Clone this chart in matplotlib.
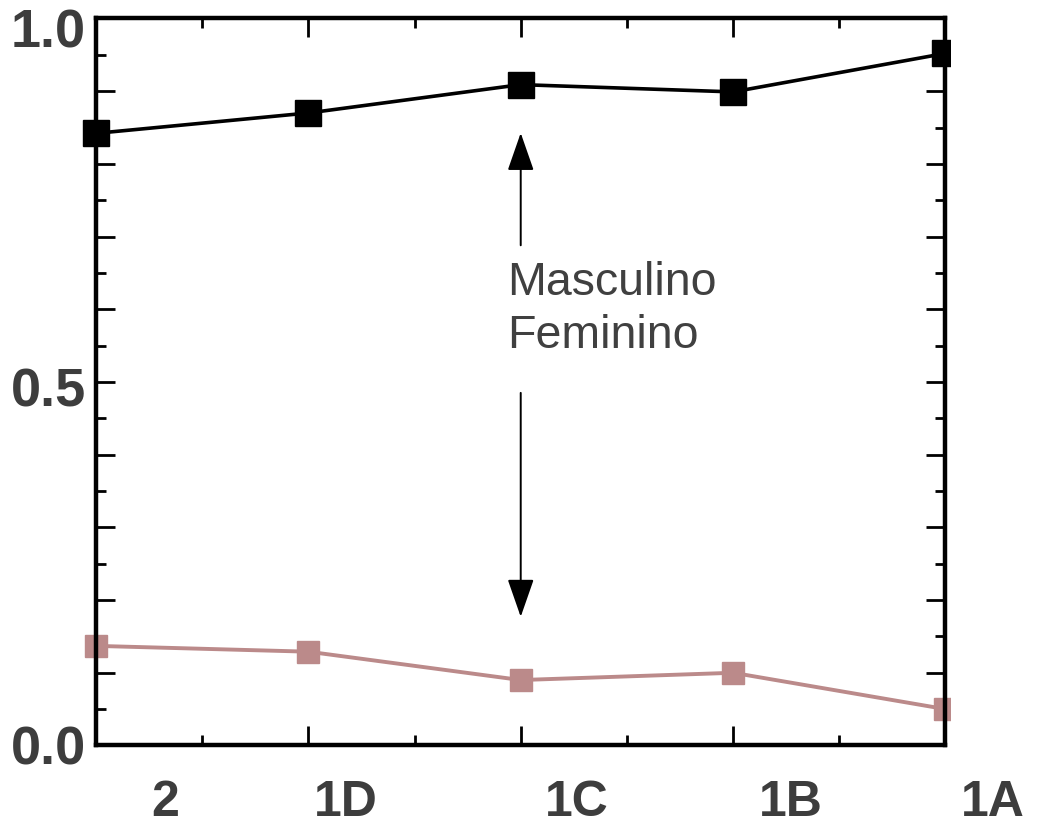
import matplotlib
matplotlib.use("Agg")
import matplotlib.pyplot as plt
import matplotlib.transforms as mtransforms
from matplotlib.ticker import MultipleLocator
import numpy as np

categories = ["2", "1D", "1C", "1B", "1A"]
masculino = [0.842, 0.870, 0.909, 0.899, 0.952]
feminino = [0.137, 0.129, 0.090, 0.100, 0.050]
ytick_labels = {0.0: "0.0", 0.5: "0.5", 1.0: "1.0"}

# style / layout constants
xlabel_offsets_px = [69, 37, 56, 58, 47]
FONT = "Liberation Sans"
TXT = "#3d3d3d"
PINK = "#bb8a8a"

plt.rcParams["font.family"] = [FONT, "DejaVu Sans"]

fig = plt.figure(figsize=(10.43, 8.32), dpi=100)
ax = fig.add_axes([0.0920, 0.1040, 0.9065 - 0.0920, 0.9778 - 0.1040])

x = np.arange(len(categories))
l1, = ax.plot(x, masculino, color="black", lw=2.6, marker="s", markersize=19,
              markerfacecolor="black", markeredgecolor="black", zorder=3)
l2, = ax.plot(x, feminino, color=PINK, lw=2.8, marker="s", markersize=16,
              markerfacecolor=PINK, markeredgecolor=PINK, zorder=2)
clip = mtransforms.TransformedBbox(mtransforms.Bbox([[-0.1, -0.1], [1.005, 1.1]]), ax.transAxes)
for ln in (l1, l2):
    ln.set_clip_box(clip)

ax.set_xlim(0, len(categories) - 1)
ax.set_ylim(0, 1.0)

# ticks
ax.set_xticks(x)
ax.set_xticklabels(categories)
ax.xaxis.set_minor_locator(MultipleLocator(0.5))
yt = np.round(np.arange(0, 1.0001, 0.1), 2)
ax.set_yticks(yt)
ax.set_yticklabels([ytick_labels.get(float(v), "") for v in yt])
ax.yaxis.set_minor_locator(MultipleLocator(0.05))

ax.tick_params(axis="both", which="major", direction="in", length=14, width=2,
               top=True, right=True, colors="black")
ax.tick_params(axis="both", which="minor", direction="in", length=7, width=2,
               top=True, right=True, colors="black")
ax.tick_params(axis="x", which="major", pad=25, labelsize=36, labelcolor=TXT)
ax.tick_params(axis="y", which="major", pad=7, labelsize=39, labelcolor=TXT)
for lab in ax.get_xticklabels():
    lab.set_fontweight("bold")
for lab in ax.get_yticklabels():
    lab.set_fontweight("bold")

for lab, off in zip(ax.get_xticklabels(), xlabel_offsets_px):
    lab.set_transform(lab.get_transform() + mtransforms.ScaledTranslation(off / 100, 0, fig.dpi_scale_trans))
ylabs = ax.get_yticklabels()
ylabs[-1].set_transform(ylabs[-1].get_transform() + mtransforms.ScaledTranslation(0, -10 / 100, fig.dpi_scale_trans))
ylabs[5].set_transform(ylabs[5].get_transform() + mtransforms.ScaledTranslation(0, -5 / 100, fig.dpi_scale_trans))

for sp in ax.spines.values():
    sp.set_linewidth(3.2)
    sp.set_color("black")

# arrows and annotation
arrow_style = "-|>,head_length=23.8,head_width=8.3"
ax.annotate("", xy=(2, 0.8425), xytext=(2, 0.688),
            arrowprops=dict(arrowstyle=arrow_style, mutation_scale=1, lw=1.4,
                            color="black", shrinkA=0, shrinkB=0))
ax.annotate("", xy=(2, 0.177), xytext=(2, 0.485),
            arrowprops=dict(arrowstyle=arrow_style, mutation_scale=1, lw=1.4,
                            color="black", shrinkA=0, shrinkB=0))
ax.text(1.935, 0.636, "Masculino", fontsize=33.5, color="#404040", ha="left", va="center")
ax.text(1.935, 0.563, "Feminino", fontsize=33.5, color="#404040", ha="left", va="center")

fig.savefig("out.png", dpi=100)
